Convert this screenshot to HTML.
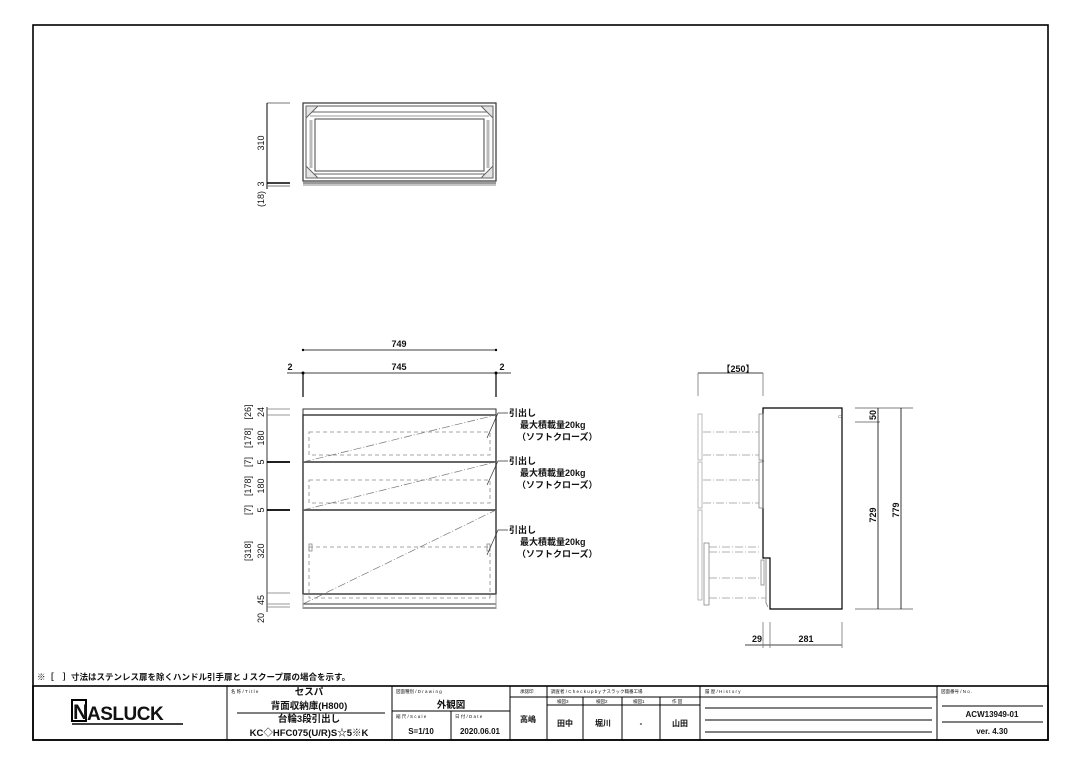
<!DOCTYPE html>
<html><head><meta charset="utf-8"><style>
html,body{margin:0;padding:0;background:#fff;}
svg{display:block;}
text{font-family:"Liberation Sans","Noto Sans CJK JP",sans-serif;fill:#111;}
</style></head><body>
<svg width="1080" height="764" viewBox="0 0 1080 764" xmlns="http://www.w3.org/2000/svg">
<rect x="0" y="0" width="1080" height="764" fill="#fff"/>
<rect x="33" y="25" width="1015" height="715" fill="none" stroke="#000" stroke-width="1.6"/>

<!-- TOP VIEW -->
<g stroke="#333" fill="none" stroke-width="1">
<rect x="303" y="103" width="193" height="78" stroke-width="1.2"/>
<rect x="306" y="106" width="187" height="72" stroke="#555"/>
<line x1="310" y1="112" x2="489" y2="112" stroke="#666"/>
<line x1="310" y1="116" x2="489" y2="116" stroke="#999"/>
<rect x="315" y="119" width="169" height="52" stroke="#444"/>
<line x1="306" y1="174" x2="493" y2="174" stroke="#666"/>
<line x1="303" y1="183" x2="496" y2="183"/>
<line x1="303" y1="185" x2="496" y2="185" stroke="#888"/>
<path d="M306 106 L318 106 L306 118 Z M493 106 L481 106 L493 118 Z M306 178 L318 178 L306 166 Z M493 178 L481 178 L493 166 Z" fill="#e4e4e4" stroke="#666"/>
<line x1="311" y1="120" x2="311" y2="168" stroke="#bbb" stroke-width="3"/>
<line x1="488" y1="120" x2="488" y2="168" stroke="#bbb" stroke-width="3"/>
</g>
<g stroke="#000" stroke-width="1">
<line x1="267" y1="103" x2="290" y2="103" stroke="#777"/>
<line x1="267" y1="103" x2="267" y2="189"/>
<line x1="267" y1="183" x2="290" y2="183" stroke-width="1.6"/>
<line x1="267" y1="186" x2="290" y2="186" stroke="#777"/>
</g>
<text transform="translate(264,143) rotate(-90)" font-size="9" text-anchor="middle">310</text>
<text transform="translate(264,184) rotate(-90)" font-size="9" text-anchor="middle">3</text>
<text transform="translate(264,199) rotate(-90)" font-size="9" text-anchor="middle">(18)</text>

<!-- FRONT VIEW dims -->
<g stroke="#000" stroke-width="0.8">
<line x1="303" y1="350" x2="496" y2="350"/>
<line x1="287" y1="373" x2="511" y2="373"/>
<line x1="303" y1="373" x2="303" y2="397" stroke-width="1.2"/>
<line x1="496" y1="373" x2="496" y2="397" stroke-width="1.2"/>
</g>
<circle cx="303" cy="350" r="1.2"/><circle cx="496" cy="350" r="1.2"/>
<circle cx="303" cy="373" r="1.5"/><circle cx="496" cy="373" r="1.5"/>
<text x="399" y="347" font-size="9" text-anchor="middle" font-weight="bold">749</text>
<text x="399" y="370" font-size="9" text-anchor="middle" font-weight="bold">745</text>
<text x="290" y="370" font-size="9" text-anchor="middle" font-weight="bold">2</text>
<text x="502" y="370" font-size="9" text-anchor="middle" font-weight="bold">2</text>

<g fill="none" stroke="#333">
<rect x="303" y="409" width="193" height="6" stroke-width="1"/>
<rect x="303" y="415" width="193" height="179" stroke-width="1.4"/>
<line x1="303" y1="462" x2="496" y2="462" stroke-width="1.6"/>
<line x1="303" y1="510" x2="496" y2="510" stroke-width="1.6"/>
<rect x="303" y="604" width="193" height="4" stroke-width="1"/>
<line x1="303" y1="594" x2="303" y2="608" stroke="#999"/>
<line x1="496" y1="594" x2="496" y2="608" stroke="#999"/>
<g stroke="#888" stroke-dasharray="4,3" stroke-width="0.8">
<rect x="309" y="432" width="181" height="23"/>
<rect x="309" y="480" width="181" height="23"/>
<polyline points="309,547 309,598 490,598 490,547"/>
<line x1="309" y1="547" x2="490" y2="547"/>
</g>
<rect x="309" y="544" width="3" height="7" stroke="#888" stroke-width="0.8"/>
<rect x="487" y="544" width="3" height="7" stroke="#888" stroke-width="0.8"/>
<g stroke="#777" stroke-width="0.7" stroke-dasharray="8,2,1,2">
<line x1="303" y1="462" x2="496" y2="415"/>
<line x1="303" y1="510" x2="496" y2="462"/>
<line x1="303" y1="604" x2="496" y2="510"/>
</g>
</g>
<g fill="none" stroke="#333" stroke-width="0.7">
<path d="M487 438 L498 413 L508 413"/>
<path d="M487 485 L498 461 L508 461"/>
<path d="M487 555 L498 530 L508 530"/>
</g>
<g font-size="9" font-weight="bold">
<text x="509" y="416">引出し</text><text x="520" y="428">最大積載量20kg</text><text x="517" y="440">（ソフトクローズ）</text>
<text x="509" y="464">引出し</text><text x="520" y="476">最大積載量20kg</text><text x="517" y="488">（ソフトクローズ）</text>
<text x="509" y="533">引出し</text><text x="520" y="545">最大積載量20kg</text><text x="517" y="557">（ソフトクローズ）</text>
</g>
<g stroke="#000" stroke-width="0.8">
<line x1="267" y1="407" x2="267" y2="612"/>
<line x1="267" y1="409" x2="290" y2="409" stroke="#777"/>
<line x1="267" y1="415" x2="290" y2="415" stroke="#777"/>
<line x1="267" y1="462" x2="290" y2="462" stroke-width="1.8"/>
<line x1="267" y1="510" x2="290" y2="510" stroke-width="1.8"/>
<line x1="267" y1="593" x2="290" y2="593" stroke="#777"/>
<line x1="267" y1="604" x2="290" y2="604" stroke="#777"/>
<line x1="267" y1="607" x2="290" y2="607" stroke="#777"/>
</g>
<g font-size="9" text-anchor="middle">
<text transform="translate(264,412) rotate(-90)">24</text>
<text transform="translate(251,412) rotate(-90)">[26]</text>
<text transform="translate(264,438) rotate(-90)">180</text>
<text transform="translate(251,438) rotate(-90)">[178]</text>
<text transform="translate(264,462) rotate(-90)">5</text>
<text transform="translate(251,462) rotate(-90)">[7]</text>
<text transform="translate(264,486) rotate(-90)">180</text>
<text transform="translate(251,486) rotate(-90)">[178]</text>
<text transform="translate(264,510) rotate(-90)">5</text>
<text transform="translate(251,510) rotate(-90)">[7]</text>
<text transform="translate(264,551) rotate(-90)">320</text>
<text transform="translate(251,551) rotate(-90)">[318]</text>
<text transform="translate(264,600) rotate(-90)">45</text>
<text transform="translate(264,618) rotate(-90)">20</text>
</g>

<!-- SIDE VIEW -->
<g stroke="#000" stroke-width="0.8" fill="none">
<line x1="698" y1="373" x2="763" y2="373"/>
<line x1="698" y1="373" x2="698" y2="396" stroke="#777"/>
<line x1="763" y1="373" x2="763" y2="396" stroke="#777"/>
<path d="M763 408 L842 408 L842 609 L770 609 L770 558 L763 558 Z" stroke-width="1.2"/>
<path d="M766 558 L766 603 L768 607" stroke="#777"/>
<rect x="759" y="414" width="4" height="46" stroke="#888"/>
<rect x="759" y="462" width="4" height="46" stroke="#888"/>
<rect x="761" y="560" width="3" height="25" stroke="#888"/>
<rect x="698" y="414" width="4" height="46" stroke="#aaa"/>
<rect x="698" y="462" width="4" height="46" stroke="#aaa"/>
<rect x="698" y="510" width="4" height="90" stroke="#aaa"/>
<rect x="704" y="543" width="5" height="62" stroke="#888"/>
<g stroke="#999" stroke-dasharray="8,2,1,2" stroke-width="0.7">
<line x1="703" y1="432" x2="759" y2="432"/><line x1="703" y1="455" x2="759" y2="455"/>
<line x1="703" y1="480" x2="759" y2="480"/><line x1="703" y1="503" x2="759" y2="503"/>
<line x1="709" y1="547" x2="759" y2="547"/><line x1="709" y1="552" x2="759" y2="552"/>
<line x1="709" y1="578" x2="759" y2="578"/><line x1="709" y1="598" x2="766" y2="598"/>
</g>
<line x1="855" y1="408" x2="913" y2="408" stroke="#555"/>
<line x1="855" y1="422" x2="880" y2="422" stroke="#555"/>
<line x1="855" y1="609" x2="913" y2="609" stroke="#555"/>
<line x1="878" y1="408" x2="878" y2="609"/>
<line x1="901" y1="408" x2="901" y2="609"/>
<line x1="745" y1="645" x2="842" y2="645"/>
<line x1="763" y1="622" x2="763" y2="648" stroke="#777"/>
<line x1="770" y1="622" x2="770" y2="648" stroke="#777"/>
<line x1="842" y1="622" x2="842" y2="648" stroke="#777"/>
</g>
<text x="838" y="418" font-size="5" fill="#666">▭</text>
<text x="738" y="372" font-size="9" text-anchor="middle" font-weight="bold">【250】</text>
<text x="757" y="642" font-size="9" text-anchor="middle" font-weight="bold">29</text>
<text x="806" y="642" font-size="9" text-anchor="middle" font-weight="bold">281</text>
<g font-size="9" text-anchor="middle" font-weight="bold">
<text transform="translate(876,415) rotate(-90)">50</text>
<text transform="translate(876,515) rotate(-90)">729</text>
<text transform="translate(899,510) rotate(-90)">779</text>
</g>

<text x="37" y="680" font-size="8.5" font-weight="bold">※［　］寸法はステンレス扉を除くハンドル引手扉とＪスクープ扉の場合を示す。</text>

<g stroke="#000" fill="none">
<rect x="33" y="686" width="1015" height="54" stroke-width="1.6"/>
<g stroke-width="1">
<line x1="227" y1="686" x2="227" y2="740"/>
<line x1="392" y1="686" x2="392" y2="740"/>
<line x1="510" y1="686" x2="510" y2="740"/>
<line x1="547" y1="686" x2="547" y2="740"/>
<line x1="700" y1="686" x2="700" y2="740"/>
<line x1="937" y1="686" x2="937" y2="740"/>
<line x1="583" y1="697" x2="583" y2="740"/>
<line x1="622" y1="697" x2="622" y2="740"/>
<line x1="660" y1="697" x2="660" y2="740"/>
<line x1="510" y1="697" x2="937" y2="697"/>
<line x1="547" y1="705" x2="700" y2="705"/>
<line x1="237" y1="713" x2="385" y2="713"/>
<line x1="392" y1="711" x2="510" y2="711"/>
<line x1="451" y1="711" x2="451" y2="740"/>
<line x1="705" y1="708" x2="932" y2="708"/>
<line x1="705" y1="720" x2="932" y2="720"/>
<line x1="705" y1="732" x2="932" y2="732"/>
<line x1="942" y1="706" x2="1043" y2="706"/>
<line x1="942" y1="722" x2="1043" y2="722"/>
</g>
</g>
<rect x="72" y="700" width="14" height="21" fill="#fff" stroke="#000" stroke-width="2"/>
<text x="73" y="719" font-size="21" font-weight="bold" style="letter-spacing:-1px">N</text>
<text x="87" y="720" font-size="19" font-weight="bold" style="letter-spacing:-0.5px">ASLUCK</text>
<line x1="72" y1="724" x2="183" y2="724" stroke="#000" stroke-width="1.5"/>
<g font-size="4.5" fill="#444">
<text x="231" y="693">名 称 / T i t l e</text>
<text x="396" y="693">図面種別 / D r a w i n g</text>
<text x="396" y="718">縮 尺 / S c a l e</text>
<text x="455" y="718">日 付 / D a t e</text>
<text x="520" y="693">承認印</text>
<text x="551" y="693">調査者 / C h e c k  u p  b y  ナスラック職番工場</text>
<text x="557" y="703">検図3</text><text x="596" y="703">検図2</text><text x="633" y="703">検図1</text><text x="672" y="703">作 図</text>
<text x="705" y="693">履 歴 / H i s t o r y</text>
<text x="941" y="693">図面番号 / N o .</text>
</g>
<g font-size="9.5" text-anchor="middle" font-weight="bold">
<text x="309" y="695">セスパ</text>
<text x="309" y="709">背面収納庫(H800)</text>
<text x="309" y="722">台輪3段引出し</text>
<text x="309" y="736">KC◇HFC075(U/R)S☆5※K</text>
<text x="451" y="708">外観図</text>
<text x="421" y="734" font-size="8">S=1/10</text>
<text x="480" y="734" font-size="8">2020.06.01</text>
<text x="528" y="722" font-size="8">高嶋</text>
<text x="565" y="726" font-size="8">田中</text>
<text x="603" y="726" font-size="8">堀川</text>
<text x="641" y="726" font-size="8">-</text>
<text x="680" y="726" font-size="8">山田</text>
<text x="992" y="717" font-size="8">ACW13949-01</text>
<text x="992" y="734" font-size="8">ver. 4.30</text>
</g>
</svg>
</body></html>
